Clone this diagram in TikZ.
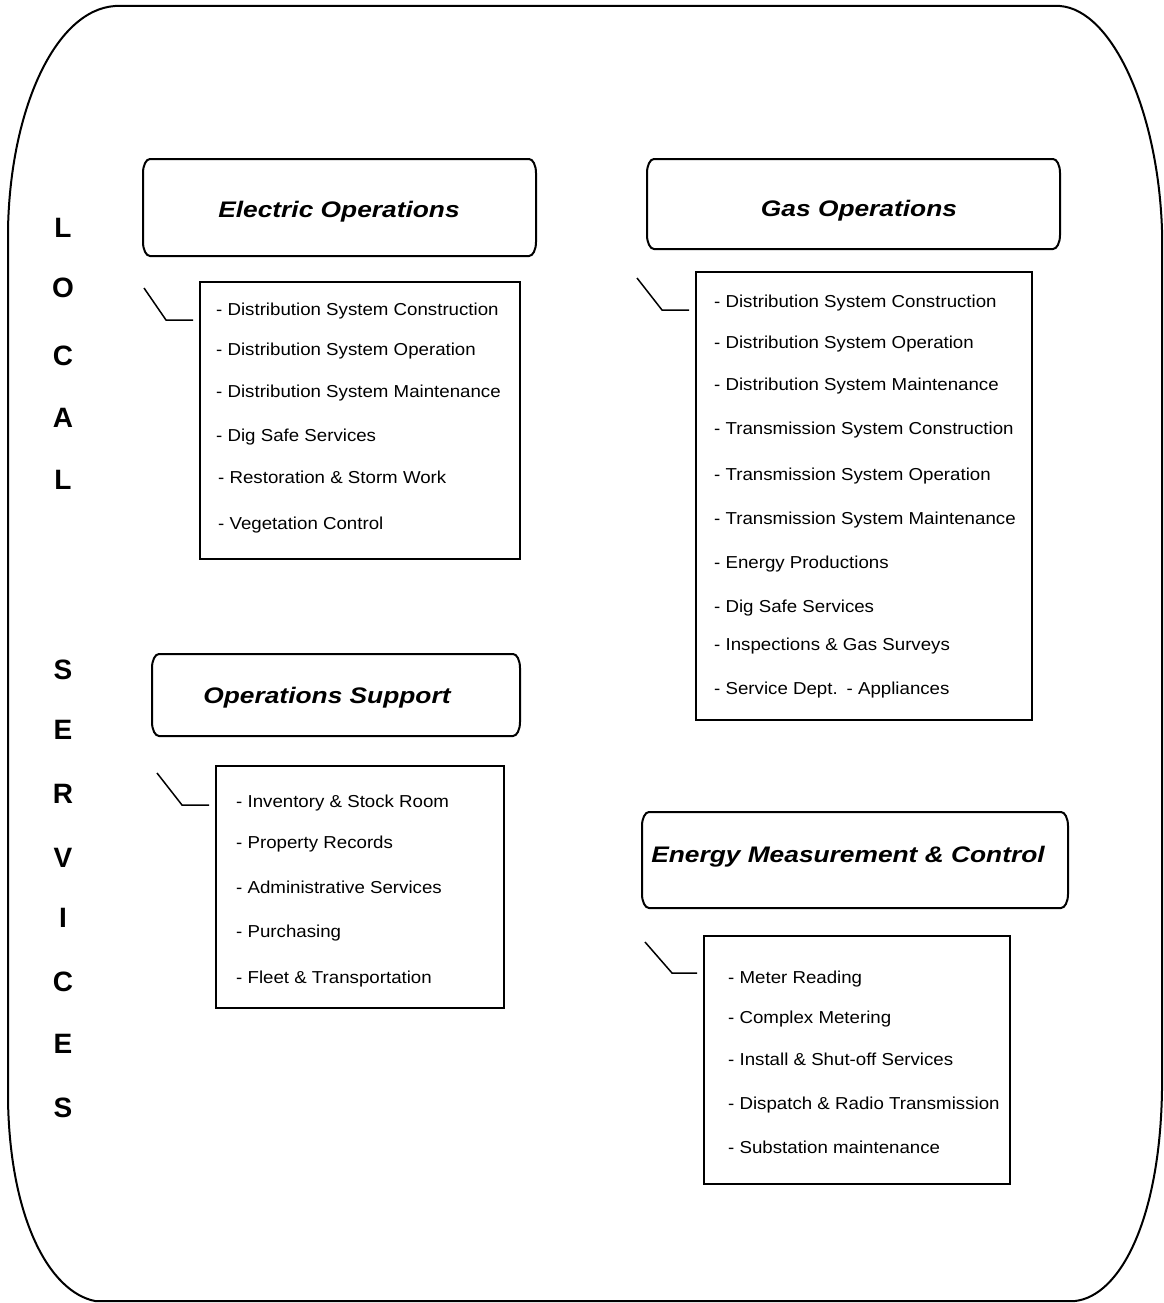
\documentclass[tikz,border=0pt]{standalone}
\usepackage{fontspec}
\setmainfont{Liberation Sans}
\newfontfamily\itemfont{Liberation Sans}[FakeStretch=1.08]
\newfontfamily\titlefont{Liberation Sans}[FakeStretch=1.17]
\begin{document}
\begin{tikzpicture}[x=1pt,y=-1pt,
  boxline/.style={line width=2pt,black},
  listbox/.style={draw,line width=2pt,anchor=north west,inner sep=0pt,outer sep=0pt},
  tbox/.style={draw=none,anchor=north west,inner sep=0pt,outer sep=0pt},
  item/.style={anchor=base west,inner sep=0pt,font=\itemfont\fontsize{17.3}{20}\selectfont},
  ttl/.style={anchor=base,inner sep=0pt,font=\titlefont\bfseries\itshape\fontsize{22.5}{26}\selectfont},
  letter/.style={anchor=center,inner sep=0pt,font=\bfseries\fontsize{28}{32}\selectfont},
  callout/.style={line width=1.5pt,shorten >=7pt}]
\useasboundingbox (0,0) rectangle (1163,1303);
\newcommand\titleshape[1]{%
 \draw[boxline] ([xshift=7pt]#1.north west) -- ([xshift=-7pt]#1.north east)
   arc[start angle=90,end angle=0,x radius=7pt,y radius=14pt]
   -- ([yshift=14pt]#1.south east)
   arc[start angle=0,end angle=-90,x radius=7pt,y radius=14pt]
   -- ([xshift=7pt]#1.south west)
   arc[start angle=270,end angle=180,x radius=7pt,y radius=14pt]
   -- ([yshift=-14pt]#1.north west)
   arc[start angle=180,end angle=90,x radius=7pt,y radius=14pt] -- cycle;}

% outer boundary
\draw[line width=2pt] (115,6) -- (1060,6)
  .. controls (1112,10) and (1158,110) .. (1162,230)
  -- (1162,1090)
  .. controls (1160,1220) and (1120,1296) .. (1075,1301)
  -- (95,1301)
  .. controls (50,1292) and (10,1220) .. (8,1100)
  -- (8,230)
  .. controls (10,110) and (55,10) .. (115,6);

% LOCAL SERVICES
\foreach \ch/\yy [count=\i] in {L/228,O/288,C/356,A/418,L/480,S/670,E/730,R/794,V/858,I/918,C/982,E/1044,S/1108}
  \node[letter] (ls\i) at (63,\yy) {\ch};

% Electric Operations
\node[tbox,minimum width=393pt,minimum height=97pt] (et) at (143,159) {};
\titleshape{et}
\node[ttl] (ett) at (339,217) {Electric Operations};
\node[listbox,minimum width=320pt,minimum height=277pt] (eb) at (200,282) {};
\node[item] (e1) at (216,315) {- Distribution System Construction};
\node[item] (e2) at (216,355) {- Distribution System Operation};
\node[item] (e3) at (216,397) {- Distribution System Maintenance};
\node[item] (e4) at (216,441) {- Dig Safe Services};
\node[item] (e5) at (218,483) {- Restoration \& Storm Work};
\node[item] (e6) at (218,529) {- Vegetation Control};
\coordinate (ec1) at (144,288);
\coordinate (ec2) at (166,320);
\draw[callout] (ec1) -- (ec2) -- (ec2 -| eb.west);

% Gas Operations
\node[tbox,minimum width=413pt,minimum height=90pt] (gt) at (647,159) {};
\titleshape{gt}
\node[ttl] (gtt) at (859,216) {Gas Operations};
\node[listbox,minimum width=336pt,minimum height=448pt] (gb) at (696,272) {};
\node[item] (g1) at (714,307) {- Distribution System Construction};
\node[item] (g2) at (714,348) {- Distribution System Operation};
\node[item] (g3) at (714,390) {- Distribution System Maintenance};
\node[item] (g4) at (714,434) {- Transmission System Construction};
\node[item] (g5) at (714,480) {- Transmission System Operation};
\node[item] (g6) at (714,524) {- Transmission System Maintenance};
\node[item] (g7) at (714,568) {- Energy Productions};
\node[item] (g8) at (714,612) {- Dig Safe Services};
\node[item] (g9) at (714,650) {- Inspections \& Gas Surveys};
\node[item] (g10) at (714,694) {- Service Dept.\hspace{2pt} - Appliances};
\coordinate (gc1) at (637,278);
\coordinate (gc2) at (662,310);
\draw[callout] (gc1) -- (gc2) -- (gc2 -| gb.west);

% Operations Support
\node[tbox,minimum width=368pt,minimum height=82pt] (ot) at (152,654) {};
\titleshape{ot}
\node[ttl] (ott) at (327,703) {Operations Support};
\node[listbox,minimum width=288pt,minimum height=242pt] (ob) at (216,766) {};
\node[item] (o1) at (236,807) {- Inventory \& Stock Room};
\node[item] (o2) at (236,848) {- Property Records};
\node[item] (o3) at (236,893) {- Administrative Services};
\node[item] (o4) at (236,937) {- Purchasing};
\node[item] (o5) at (236,983) {- Fleet \& Transportation};
\coordinate (oc1) at (157,773);
\coordinate (oc2) at (182,805);
\draw[callout] (oc1) -- (oc2) -- (oc2 -| ob.west);

% Energy Measurement & Control
\node[tbox,minimum width=426pt,minimum height=96pt] (mt) at (642,812) {};
\titleshape{mt}
\node[ttl] (mtt) at (848,862) {Energy Measurement \& Control};
\node[listbox,minimum width=306pt,minimum height=248pt] (mb) at (704,936) {};
\node[item] (m1) at (728,983) {- Meter Reading};
\node[item] (m2) at (728,1023) {- Complex Metering};
\node[item] (m3) at (728,1065) {- Install \& Shut-off Services};
\node[item] (m4) at (728,1109) {- Dispatch \& Radio Transmission};
\node[item] (m5) at (728,1153) {- Substation maintenance};
\coordinate (mc1) at (645,942);
\coordinate (mc2) at (672,973);
\draw[callout] (mc1) -- (mc2) -- (mc2 -| mb.west);
\end{tikzpicture}
\end{document}
